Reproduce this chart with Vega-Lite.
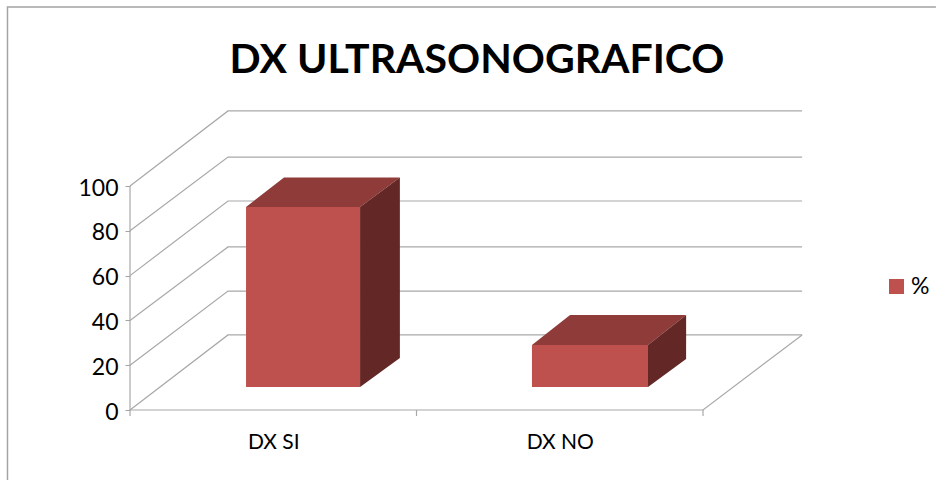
{
"$schema":"https://vega.github.io/schema/vega-lite/v6.json",
"width":936,"height":480,
"autosize":{"type":"none"},
"padding":0,
"background":"white",
"config":{"view":{"stroke":null}},
"title":{"text":"DX ULTRASONOGRAFICO","font":"Lato","fontSize":41,"fontWeight":"bold","color":"#000000","anchor":"middle","dx":9,"offset":-82,"frame":"group"},
"datasets":{
"frame":[{"n":0,"u":-0.4276,"v":-31.25},{"n":1,"u":-0.4276,"v":179.9},{"n":2,"u":2.813,"v":179.9}],
"grid":[
{"level":"20","n":0,"u":0,"v":20},{"level":"20","n":1,"u":0.342,"v":53.1},{"level":"20","n":2,"u":2.346,"v":53.1},
{"level":"40","n":0,"u":0,"v":40},{"level":"40","n":1,"u":0.342,"v":72.8},{"level":"40","n":2,"u":2.346,"v":72.8},
{"level":"60","n":0,"u":0,"v":60},{"level":"60","n":1,"u":0.342,"v":93.3},{"level":"60","n":2,"u":2.346,"v":93.3},
{"level":"80","n":0,"u":0,"v":80},{"level":"80","n":1,"u":0.342,"v":112.9},{"level":"80","n":2,"u":2.346,"v":112.9},
{"level":"100","n":0,"u":0,"v":100},{"level":"100","n":1,"u":0.342,"v":133.5},{"level":"100","n":2,"u":2.346,"v":133.5},
{"level":"0","n":0,"u":0,"v":0},{"level":"0","n":1,"u":0.342,"v":33.5},{"level":"0","n":2,"u":2.346,"v":33.5},
{"level":"floor","n":0,"u":0,"v":0},{"level":"floor","n":1,"u":2,"v":0},{"level":"floor","n":2,"u":2.346,"v":33.5},
{"level":"wall","n":0,"u":0,"v":-2.7},{"level":"wall","n":1,"u":0,"v":100},
{"level":"t1","n":0,"u":1,"v":0},{"level":"t1","n":1,"u":1,"v":-2.7},
{"level":"t2","n":0,"u":2,"v":0},{"level":"t2","n":1,"u":2,"v":-2.7}
],
"front":[
{"cat":"DX SI","serie":"%","u0":0.405,"u1":0.803,"v0":10.27,"v1":90.6},
{"cat":"DX NO","serie":"%","u0":1.403,"u1":1.808,"v0":10.27,"v1":29}
],
"side":[
{"cat":"DX SI","u":0.803,"v0":10.27,"v1":90.6},{"cat":"DX SI","u":0.942,"v0":23.2,"v1":103.8},
{"cat":"DX NO","u":1.808,"v0":10.27,"v1":29},{"cat":"DX NO","u":1.941,"v0":22.8,"v1":42.4}
],
"top":[
{"cat":"DX SI","v":90.6,"u0":0.405,"u1":0.803},{"cat":"DX SI","v":103.8,"u0":0.5375,"u1":0.942},
{"cat":"DX NO","v":29,"u0":1.403,"u1":1.808},{"cat":"DX NO","v":42.4,"u0":1.536,"u1":1.941}
]
},
"layer":[
{"data":{"name":"frame"},"mark":{"type":"line","color":"#A3A3A3","strokeWidth":1.5,"clip":false},
 "encoding":{"x":{"field":"u","type":"quantitative","scale":{"domain":[-0.45375,2.81326],"nice":false,"zero":false},
   "axis":{"values":[0.5,1.5],"orient":"bottom","offset":-70,"domain":false,"ticks":false,"grid":false,"title":null,"labelFont":"Lato","labelFontSize":21,"labelColor":"#000000","labelPadding":21,"labelExpr":"datum.value == 0.5 ? 'DX SI' : 'DX NO'"}},
  "y":{"field":"v","type":"quantitative","scale":{"domain":[-31.25,183.04],"nice":false,"zero":false},
   "axis":{"values":[0,20,40,60,80,100],"orient":"left","offset":-130,"domain":false,"grid":false,"title":null,"tickSize":5,"tickColor":"#A3A3A3","labelFont":"Lato","labelFontSize":23,"labelColor":"#000000","labelPadding":7,"labelOffset":2}},
  "order":{"field":"n","type":"quantitative"}}},
{"data":{"name":"grid"},"mark":{"type":"line","color":"#A8A8A8","strokeWidth":1.2},
 "encoding":{"x":{"field":"u","type":"quantitative"},"y":{"field":"v","type":"quantitative"},"detail":{"field":"level"},"order":{"field":"n","type":"quantitative"}}},
{"data":{"name":"top"},"mark":{"type":"area","orient":"horizontal","color":"#8F3B39"},
 "encoding":{"y":{"field":"v","type":"quantitative"},"x":{"field":"u0","type":"quantitative"},"x2":{"field":"u1"},"detail":{"field":"cat"}}},
{"data":{"name":"side"},"mark":{"type":"area","color":"#632826"},
 "encoding":{"x":{"field":"u","type":"quantitative"},"y":{"field":"v0","type":"quantitative"},"y2":{"field":"v1"},"detail":{"field":"cat"}}},
{"data":{"name":"front"},"mark":{"type":"rect"},
 "encoding":{"x":{"field":"u0","type":"quantitative"},"x2":{"field":"u1"},"y":{"field":"v0","type":"quantitative"},"y2":{"field":"v1"},
  "color":{"field":"serie","type":"nominal","scale":{"range":["#BE504E"]},
   "legend":{"orient":"none","legendX":885,"legendY":275,"title":null,"symbolType":"square","symbolSize":225,"symbolStrokeWidth":0,"symbolOpacity":1,"labelFont":"Lato","labelFontSize":23,"labelColor":"#000000","labelOffset":3}}}}
]
}
